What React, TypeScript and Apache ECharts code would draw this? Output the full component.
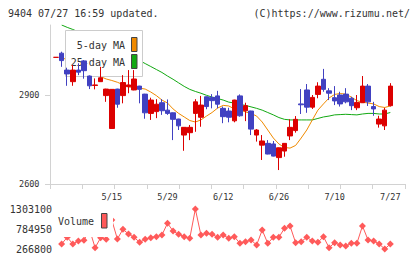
import React, { useEffect, useRef } from 'react';
import * as echarts from 'echarts';

const dates = [
  '4/28', '4/30', '5/1', '5/2', '5/7', '5/8', '5/9', '5/12', '5/13', '5/14',
  '5/15', '5/16', '5/19', '5/20', '5/21', '5/22', '5/23', '5/26', '5/27', '5/28',
  '5/29', '5/30', '6/2', '6/3', '6/4', '6/5', '6/6', '6/9', '6/10', '6/11',
  '6/12', '6/13', '6/16', '6/17', '6/18', '6/19', '6/20', '6/23', '6/24', '6/25',
  '6/26', '6/27', '6/30', '7/1', '7/2', '7/3', '7/4', '7/7', '7/8', '7/9',
  '7/10', '7/11', '7/14', '7/15', '7/16', '7/17', '7/18', '7/22', '7/23', '7/24',
  '7/27',
];
const shownLabels = ['5/15', '5/29', '6/12', '6/26', '7/10', '7/27'];

const opens = [
  3027, 3041, 2984, 2945, 2984, 3015, 2964, 2932, 2945, 2898,
  2787, 2920, 2898, 2928, 2917, 2930, 2903, 2838, 2844, 2874,
  2849, 2840, 2819, 2765, 2773, 2838, 2825, 2894, 2892, 2897,
  2855, 2846, 2813, 2897, 2847, 2846, 2765, 2731, 2737, 2735,
  2689, 2711, 2762, 2780, 2870, 2917, 2859, 2902, 2953, 2914,
  2891, 2900, 2903, 2889, 2857, 2874, 2930, 2861, 2802, 2796,
  2864,
];
const closes = [
  3027, 3016, 2971, 2984, 2977, 2982, 2931, 2934, 2958, 2920,
  2919, 2869, 2942, 2934, 2954, 2919, 2840, 2883, 2869, 2847,
  2838, 2818, 2796, 2791, 2791, 2877, 2866, 2861, 2881, 2869,
  2827, 2825, 2883, 2830, 2864, 2785, 2782, 2745, 2701, 2694,
  2722, 2737, 2791, 2818, 2867, 2859, 2892, 2930, 2919, 2906,
  2880, 2870, 2877, 2864, 2875, 2930, 2877, 2853, 2819, 2849,
  2930,
];
const lows = [
  3027, 2995, 2931, 2931, 2967, 2955, 2920, 2919, 2944, 2877,
  2787, 2857, 2872, 2906, 2916, 2872, 2820, 2816, 2822, 2833,
  2833, 2748, 2782, 2712, 2748, 2776, 2793, 2852, 2855, 2855,
  2805, 2808, 2808, 2827, 2812, 2765, 2743, 2681, 2700, 2693,
  2647, 2692, 2748, 2773, 2836, 2840, 2853, 2889, 2911, 2883,
  2866, 2861, 2872, 2849, 2849, 2873, 2863, 2830, 2790, 2782,
  2861,
];
const highs = [
  3027, 3046, 2992, 3001, 3007, 3018, 2966, 2956, 2995, 2921,
  2920, 2921, 2967, 2984, 2984, 2931, 2904, 2891, 2886, 2886,
  2885, 2841, 2820, 2792, 2799, 2886, 2897, 2895, 2903, 2914,
  2861, 2857, 2884, 2902, 2874, 2847, 2785, 2765, 2748, 2745,
  2723, 2738, 2818, 2829, 2920, 2937, 2900, 2943, 2988, 2923,
  2930, 2911, 2923, 2894, 2900, 2964, 2937, 2877, 2830, 2857,
  2940,
];
const ma5 = [
  null, 3027, 3018, 3008, 2998, 2990, 2980, 2972, 2962, 2954,
  2949, 2943, 2935, 2928, 2924, 2923, 2920, 2910, 2898, 2883,
  2873, 2853, 2838, 2826, 2814, 2809, 2816, 2829, 2841, 2856,
  2865, 2863, 2853, 2850, 2843, 2838, 2829, 2809, 2782, 2755,
  2735, 2723, 2721, 2730, 2755, 2782, 2816, 2849, 2870, 2890,
  2902, 2905, 2903, 2893, 2881, 2876, 2873, 2870, 2861, 2858,
  2863,
];
const ma25 = [
  null, 3136, 3128, 3121, 3113, 3106, 3097, 3089, 3080, 3071,
  3062, 3053, 3044, 3034, 3025, 3016, 3006, 2996, 2986, 2976,
  2964, 2953, 2941, 2929, 2919, 2912, 2906, 2899, 2893, 2888,
  2883, 2876, 2873, 2868, 2865, 2860, 2855, 2849, 2841, 2833,
  2824, 2818, 2816, 2816, 2816, 2816, 2816, 2821, 2826, 2829,
  2833, 2834, 2835, 2834, 2833, 2836, 2838, 2838, 2836, 2836,
  2841,
];
const volumes = [
  null, 396000, 570000, 396000, 474000, 492000, 775000, 301000, 557000, 518000,
  1018000, 526000, 777000, 655000, 570000, 440000, 518000, 560000, 585000, 629000,
  933000, 733000, 648000, 585000, 544000, 1303100, 629000, 674000, 648000, 570000,
  629000, 544000, 585000, 414000, 456000, 500000, 370000, 759000, 414000, 570000,
  570000, 803000, 863000, 430000, 456000, 570000, 474000, 440000, 585000, 301000,
  430000, 370000, 345000, 414000, 414000, 863000, 500000, 474000, 396000, 266800,
  396000,
];
const priceTicks = [2600, 2900];
const volumeTicks = [266800, 784950, 1303100];

const FONT = '"DejaVu Sans Mono", "Liberation Mono", monospace';
const RED = '#dc0000';
const BLUE = '#4141c1';
const ORANGE = '#f08a00';
const GREEN = '#12a812';
const VOL = '#ff5a5a';
const AXIS = '#d2d2d2';
const TEXT = '#333333';

export default function App() {
  const ref = useRef<HTMLDivElement>(null);
  useEffect(() => {
    const chart = echarts.init(ref.current as HTMLDivElement, null, { renderer: 'svg' });
    const candle = opens.map((o, i) => [o, closes[i], lows[i], highs[i]]);
    const cLeft = 53.3;
    const cWidth = 339.8;
    const option: any = {
      animation: false,
      backgroundColor: '#ffffff',
      grid: [
        { left: cLeft, top: 25, width: cWidth, height: 159 },
        { left: 50, top: 25, width: 355, height: 159 },
        { left: cLeft, top: 209, width: cWidth, height: 40 },
      ],
      xAxis: [
        {
          type: 'category', gridIndex: 0, data: dates, boundaryGap: true,
          axisLine: { show: false }, axisTick: { show: false }, splitLine: { show: false },
          axisLabel: {
            interval: 0, margin: 8, color: TEXT, fontFamily: FONT, fontSize: 8.5,
            formatter: (v: string) => (shownLabels.includes(v) ? v : ''),
          },
        },
        {
          type: 'value', gridIndex: 1, min: 0, max: 11, interval: 1,
          axisLine: { show: true, lineStyle: { color: AXIS, width: 1 } },
          axisTick: { show: true, length: 5, lineStyle: { color: AXIS, width: 1 } },
          axisLabel: { show: false }, splitLine: { show: false },
        },
        {
          type: 'category', gridIndex: 2, data: dates, boundaryGap: true,
          axisLine: { show: false }, axisTick: { show: false }, axisLabel: { show: false },
          splitLine: { show: false },
        },
      ],
      yAxis: [
        {
          type: 'value', gridIndex: 0, min: 2600, max: 3136,
          axisLine: { show: false }, axisTick: { show: false }, axisLabel: { show: false },
          splitLine: { show: false },
        },
        {
          type: 'value', gridIndex: 1, min: 2600, max: 3136,
          axisLine: { show: true, lineStyle: { color: AXIS, width: 1 } },
          axisTick: { show: true, length: 5, customValues: priceTicks, lineStyle: { color: AXIS, width: 1 } },
          axisLabel: {
            customValues: priceTicks, margin: 10.5, color: TEXT, fontFamily: FONT, fontSize: 8.5,
            formatter: (v: number) => String(v),
          },
          splitLine: { show: false },
        },
        {
          type: 'value', gridIndex: 2, min: 266800, max: 1303100,
          axisLine: { show: false }, axisTick: { show: false }, splitLine: { show: false },
          axisLabel: {
            customValues: volumeTicks, margin: 1.3, color: TEXT, fontFamily: FONT, fontSize: 10,
            formatter: (v: number) => String(v),
          },
        },
      ],
      series: [
        {
          name: '25-day MA', type: 'line', xAxisIndex: 0, yAxisIndex: 0, data: ma25,
          showSymbol: false, z: 1, lineStyle: { color: GREEN, width: 1 }, itemStyle: { color: GREEN },
        },
        {
          name: '5-day MA', type: 'line', xAxisIndex: 0, yAxisIndex: 0, data: ma5,
          showSymbol: false, z: 1, lineStyle: { color: ORANGE, width: 1 }, itemStyle: { color: ORANGE },
        },
        {
          name: 'Price', type: 'candlestick', xAxisIndex: 0, yAxisIndex: 0, data: candle,
          barWidth: 5, z: 3,
          itemStyle: {
            color: RED, color0: BLUE, borderColor: RED, borderColor0: BLUE,
            borderColorDoji: RED, borderWidth: 1,
          },
        },
        {
          name: 'Volume', type: 'line', xAxisIndex: 2, yAxisIndex: 2, data: volumes,
          symbol: 'diamond', symbolSize: 7, showSymbol: true, showAllSymbol: true, z: 1,
          lineStyle: { color: VOL, width: 1 }, itemStyle: { color: VOL },
        },
      ],
      graphic: [
        {
          type: 'text', x: 8, y: 13, z: 10,
          style: { text: '9404 07/27 16:59 updated.', fill: TEXT, font: `10px ${FONT}`, textAlign: 'left', verticalAlign: 'middle' },
        },
        {
          type: 'text', x: 410, y: 13, z: 10,
          style: { text: '(C)https://www.rizumu.net/', fill: TEXT, font: `10px ${FONT}`, textAlign: 'right', verticalAlign: 'middle' },
        },
        {
          type: 'rect', z: 2, shape: { x: 65.5, y: 30.5, width: 77, height: 46 },
          style: { fill: '#ffffff', stroke: '#cccccc', lineWidth: 1 },
        },
        {
          type: 'text', x: 125, y: 45.5, z: 2,
          style: { text: '5-day MA', fill: TEXT, font: `10px ${FONT}`, textAlign: 'right', verticalAlign: 'middle' },
        },
        {
          type: 'text', x: 125, y: 62.5, z: 2,
          style: { text: '25-day MA', fill: TEXT, font: `10px ${FONT}`, textAlign: 'right', verticalAlign: 'middle' },
        },
        {
          type: 'rect', z: 2, shape: { x: 131.5, y: 37.5, width: 5.5, height: 14 },
          style: { fill: ORANGE, stroke: '#444444', lineWidth: 1 },
        },
        {
          type: 'rect', z: 2, shape: { x: 131.5, y: 54.5, width: 5.5, height: 14 },
          style: { fill: GREEN, stroke: '#444444', lineWidth: 1 },
        },
        {
          type: 'rect', z: 2, shape: { x: 55, y: 205, width: 58, height: 32 },
          style: { fill: '#ffffff', lineWidth: 0 },
        },
        {
          type: 'text', x: 58, y: 221.5, z: 2,
          style: { text: 'Volume', fill: TEXT, font: `10px ${FONT}`, textAlign: 'left', verticalAlign: 'middle' },
        },
        {
          type: 'rect', z: 2, shape: { x: 101.5, y: 213.5, width: 5.5, height: 14.5 },
          style: { fill: VOL, stroke: '#444444', lineWidth: 1 },
        },
      ],
    };
    chart.setOption(option);
    return () => chart.dispose();
  }, []);
  return <div ref={ref} style={{ position: 'fixed', left: 0, top: 0, width: 420, height: 259 }} />;
}
